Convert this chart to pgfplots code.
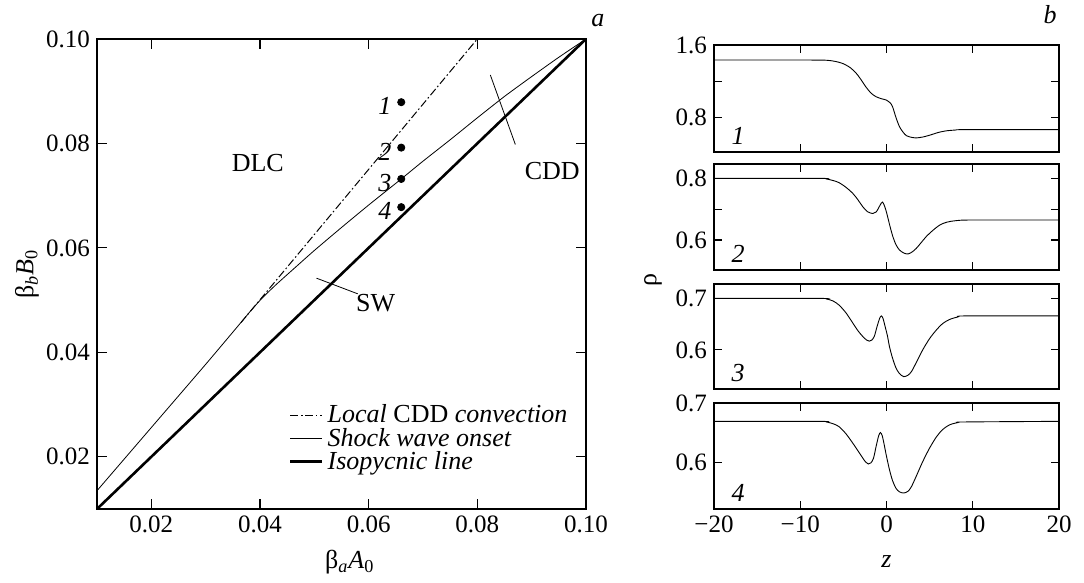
\documentclass[border=0pt]{standalone}
\usepackage{fontspec}
\setmainfont{Liberation Serif}
\usepackage{pgfplots}
\pgfplotsset{compat=1.18}
\pgfplotsset{
 common/.style={scale only axis, tick align=inside, axis line style={line width=0.9pt},
   tick style={line width=0.6pt, black},
   ticklabel style={font=\fontsize{12.5}{15}\selectfont}},
 rp/.style={common, width=172.5pt, xmin=-20, xmax=20, xtick={-10,0,10}, xticklabels={},
   major tick length=4pt, clip=false},
}
\begin{document}
\begin{tikzpicture}[font=\fontsize{13}{15}\selectfont]
\useasboundingbox (0,0) rectangle (542pt,291.5pt);
% ---------------- panel a ----------------
\begin{axis}[common, at={(48.5pt,37pt)}, anchor=south west, width=244.5pt, height=235pt,
 xmin=0.01, xmax=0.10, ymin=0.01, ymax=0.10,
 xtick={0.02,0.04,0.06,0.08,0.10}, xticklabels={0.02,0.04,0.06,0.08,0.10},
 ytick={0.02,0.04,0.06,0.08,0.10}, yticklabels={0.02,0.04,0.06,0.08,0.10},
 major tick length=5pt, clip=false,
 xlabel={β\textsubscript{\textit{a}}\textit{A}\textsubscript{0}},
 ylabel={β\textsubscript{\textit{b}}\textit{B}\textsubscript{0}},
 xlabel style={at={(axis description cs:0.517,-0.113)}, anchor=center},
 ylabel style={at={(axis description cs:-0.143,0.5)}, anchor=center},
 legend style={draw=none, fill=none, at={(axis description cs:0.388,0.235)}, anchor=north west,
   row sep=-3pt, inner sep=1pt, cells={anchor=west}, font=\fontsize{13}{15}\selectfont},
 legend image code/.code={\draw[#1] (0pt,0pt) -- (16pt,0pt);},
]
\addplot[black, line width=0.5pt, dash pattern=on 4pt off 1.3pt on 0.8pt off 1.3pt] coordinates {(0.0365,0.0457) (0.080,0.100)};
\addlegendentry{\textit{Local} CDD \textit{convection}}
\addplot[black, line width=0.4pt, smooth, tension=0.4] coordinates {
(0.010,0.0135) (0.020,0.0256) (0.030,0.0377) (0.036,0.0451) (0.0385,0.0482) (0.0405,0.0505)
(0.043,0.0530) (0.046,0.0558) (0.050,0.0595) (0.055,0.0639) (0.060,0.0682) (0.066,0.0732) (0.070,0.0766)
(0.075,0.0807) (0.080,0.0849) (0.085,0.0890) (0.090,0.0928) (0.095,0.0965) (0.100,0.1000)};
\addlegendentry{\textit{Shock wave onset}}
\addplot[black, line width=1.3pt] coordinates {(0.01,0.01) (0.10,0.10)};
\addlegendentry{\textit{Isopycnic line}}
\addplot[only marks, mark=*, mark size=1.8pt, black, forget plot] coordinates {
(0.066,0.0879) (0.066,0.0792) (0.066,0.0732) (0.066,0.0678)};
\addplot[black, line width=0.4pt, forget plot] coordinates {(0.0504,0.0542) (0.0580,0.0512)};
\addplot[black, line width=0.4pt, forget plot] coordinates {(0.0824,0.0931) (0.0870,0.0798)};
\node[anchor=east, yshift=-2pt] at (axis cs:0.0655,0.0879) {\textit{1}};
\node[anchor=east, yshift=-2pt] at (axis cs:0.0655,0.0792) {\textit{2}};
\node[anchor=east, yshift=-2pt] at (axis cs:0.0655,0.0732) {\textit{3}};
\node[anchor=east, yshift=-2pt] at (axis cs:0.0655,0.0678) {\textit{4}};
\node at (axis cs:0.0396,0.0762) {DLC};
\node at (axis cs:0.0938,0.0748) {CDD};
\node at (axis cs:0.0613,0.0494) {SW};
\node at (axis description cs:1.0245,1.04) {\textit{a}};
\end{axis}
% ---------------- panel b1 ----------------
\begin{axis}[rp, at={(357pt,215.5pt)}, anchor=south west, height=53.5pt,
 ymin=0.42, ymax=1.6, ytick={0.8,1.2,1.6}, yticklabels={0.8,{},1.6}]
\addplot[black, line width=0.45pt, smooth, tension=0.5] coordinates {
(-20,1.434) (-9,1.434) (-7,1.432) (-6,1.42) (-5.1,1.397) (-4.2,1.35) (-3.5,1.287) (-2.9,1.21)
(-2.4,1.139) (-1.8,1.07) (-1.2,1.029) (-0.5,1.005) (0,0.992) (0.4,0.965) (0.7,0.92) (1.1,0.80)
(1.5,0.70) (1.9,0.641) (2.3,0.60) (2.7,0.586) (3.4,0.575) (4.2,0.585) (5.0,0.605) (6.0,0.635)
(6.9,0.653) (8.0,0.662) (9.3,0.667) (20,0.667)};
\node at (rel axis cs:0.07,0.15) {\textit{1}};
\node at (rel axis cs:0.974,1.28) {\textit{b}};
\end{axis}
% ---------------- panel b2 ----------------
\begin{axis}[rp, at={(357pt,156.5pt)}, anchor=south west, height=53pt,
 ymin=0.503, ymax=0.8465, ytick={0.6,0.7,0.8}, yticklabels={0.6,{},0.8}]
\addplot[black, line width=0.45pt, smooth, tension=0.5] coordinates {
(-20,0.800) (-8,0.800) (-7,0.798) (-6.2,0.793) (-5.5,0.786) (-4.7,0.771) (-3.9,0.751) (-3.3,0.730)
(-2.75,0.708) (-2.2,0.692) (-1.6,0.686) (-1.2,0.691) (-0.9,0.705) (-0.6,0.720) (-0.45,0.723)
(-0.25,0.712) (0,0.690) (0.4,0.645) (0.74,0.611) (1.1,0.585) (1.5,0.568) (2.0,0.558) (2.5,0.555)
(3.0,0.562) (3.45,0.573) (4.0,0.591) (4.6,0.611) (5.4,0.632) (6.2,0.649) (7.0,0.658) (8.1,0.663)
(10,0.665) (20,0.665)};
\node at (rel axis cs:0.07,0.15) {\textit{2}};
\end{axis}
% ---------------- panel b3 ----------------
\begin{axis}[rp, at={(357pt,97pt)}, anchor=south west, height=52.5pt,
 ymin=0.524, ymax=0.728, ytick={0.6,0.7}, yticklabels={0.6,0.7}]
\addplot[black, line width=0.45pt, smooth, tension=0.5] coordinates {
(-20,0.700) (-8,0.700) (-7,0.699) (-6.2,0.695) (-5.5,0.687) (-4.7,0.672) (-3.9,0.652) (-3.3,0.637)
(-2.75,0.626) (-2.3,0.619) (-2.0,0.617) (-1.7,0.619) (-1.4,0.627) (-1.1,0.645) (-0.8,0.661)
(-0.6,0.666) (-0.4,0.661) (-0.2,0.648) (0.1,0.628) (0.35,0.606) (0.7,0.584) (1.1,0.565) (1.5,0.554)
(2.0,0.548) (2.5,0.551) (2.9,0.558) (3.5,0.577) (4.2,0.600) (5.0,0.622) (5.8,0.639) (6.5,0.651)
(7.3,0.659) (8.3,0.664) (9.3,0.666) (20,0.666)};
\node at (rel axis cs:0.07,0.15) {\textit{3}};
\node[rotate=90] at (rel axis cs:-0.177,1.035) {ρ};
\end{axis}
% ---------------- panel b4 ----------------
\begin{axis}[rp, at={(357pt,37pt)}, anchor=south west, height=53pt,
 ymin=0.521, ymax=0.700, ytick={0.6,0.7}, yticklabels={0.6,0.7},
 xtick={-20,-10,0,10,20}, xticklabels={−20,−10,0,10,20},
 xlabel={\textit{z}}, xlabel style={at={(axis description cs:0.5,-0.5)}, anchor=center}]
\addplot[black, line width=0.45pt, smooth, tension=0.5] coordinates {
(-20,0.669) (-8,0.669) (-7,0.668) (-6.2,0.665) (-5.5,0.660) (-4.7,0.648) (-3.9,0.632) (-3.3,0.619)
(-2.75,0.607) (-2.4,0.600) (-2.1,0.597) (-1.8,0.599) (-1.5,0.607) (-1.2,0.627) (-0.9,0.645)
(-0.7,0.650) (-0.5,0.645) (-0.3,0.632) (0,0.610) (0.35,0.587) (0.7,0.569) (1.1,0.556) (1.5,0.550)
(2.0,0.548) (2.5,0.551) (2.9,0.559) (3.5,0.578) (4.2,0.601) (5.0,0.624) (5.8,0.643) (6.5,0.655)
(7.3,0.663) (8.3,0.667) (9.3,0.668) (20,0.669)};
\node at (rel axis cs:0.07,0.15) {\textit{4}};
\end{axis}
\end{tikzpicture}
\end{document}
